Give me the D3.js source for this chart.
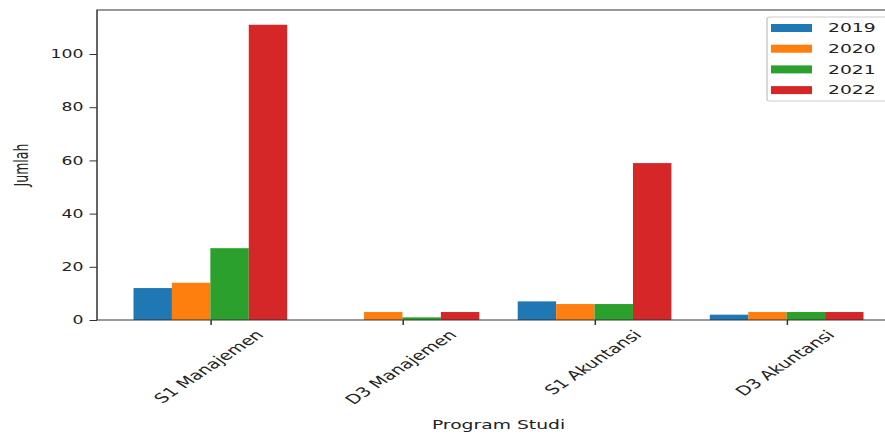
<!DOCTYPE html>
<html>
<head>
<meta charset="utf-8">
<script src="https://cdn.jsdelivr.net/npm/d3@7"></script>
<style>
  body { margin: 0; background: #fff; }
  svg { display: block; }
  text { font-family: "DejaVu Sans", sans-serif; fill: #222; }
</style>
</head>
<body>
<div id="chart"></div>
<script>
// Data
const programs = ["S1 Manajemen", "D3 Manajemen", "S1 Akuntansi", "D3 Akuntansi"];
const years = ["2019", "2020", "2021", "2022"];
const v2019 = [12, 0, 7, 2];
const v2020 = [14, 3, 6, 3];
const v2021 = [27, 1, 6, 3];
const v2022 = [111, 3, 59, 3];
const yTicks = [0, 20, 40, 60, 80, 100];
const colors = ["#1f77b4", "#ff7f0e", "#2ca02c", "#d62728"];

const series = [v2019, v2020, v2021, v2022];

function draw() {
    // the reference picture is stretched sideways, so draw in a narrower
    // virtual space and let the viewBox stretch it
    const sx = 1.5;
    const W = 885, H = 434;
    const vw = W / sx;
    const margin = { top: 10, left: 97 / sx, right: 600, bottom: 320 };

    const svg = d3.select("#chart")
        .html("")
        .append("svg")
        .attr("width", W)
        .attr("height", H)
        .attr("viewBox", `0 0 ${vw} ${H}`)
        .attr("preserveAspectRatio", "none");

    // matplotlib-style limits: bars at i-0.4..i+0.4, 5% margins
    const x = d3.scaleLinear()
        .domain([-0.59, programs.length - 1 + 0.59])
        .range([margin.left, margin.right]);

    const yMax = d3.max(series.flat()) * 1.05;
    const y = d3.scaleLinear()
        .domain([0, yMax])
        .range([margin.bottom, margin.top]);

    const bw = 0.2;

    series.forEach((vals, k) => {
        svg.append("g")
            .selectAll("rect")
            .data(vals)
            .join("rect")
            .attr("x", (d, i) => x(i - 0.4 + k * bw))
            .attr("width", x(bw) - x(0))
            .attr("y", d => y(d))
            .attr("height", d => y(0) - y(d))
            .attr("fill", colors[k]);
    });

    // frame
    svg.append("rect")
        .attr("x", margin.left)
        .attr("y", margin.top)
        .attr("width", margin.right - margin.left)
        .attr("height", margin.bottom - margin.top)
        .attr("fill", "none")
        .attr("stroke", "#333")
        .attr("stroke-width", 1);

    // y axis
    const yAxis = svg.append("g")
        .attr("transform", `translate(${margin.left},0)`)
        .call(d3.axisLeft(y).tickValues(yTicks).tickSize(5).tickPadding(4));
    yAxis.select(".domain").remove();
    yAxis.selectAll("line").attr("stroke", "#333");
    yAxis.selectAll("text").attr("font-size", 11.5).style("font-family", "DejaVu Sans").attr("fill", "#222");

    // x axis ticks
    const xAxis = svg.append("g")
        .attr("transform", `translate(0,${margin.bottom})`)
        .call(d3.axisBottom(x).tickValues(d3.range(programs.length)).tickSize(5).tickFormat(""));
    xAxis.select(".domain").remove();
    xAxis.selectAll("line").attr("stroke", "#333");

    // rotated x tick labels, centred under each tick
    programs.forEach((p, i) => {
        const t = svg.append("text")
            .attr("font-size", 13)
            .attr("text-anchor", "middle")
            .attr("dominant-baseline", "central")
            .text(p);
        const L = t.node().getComputedTextLength();
        const half = (L + 13) * Math.SQRT1_2 / 2;
        const cx = x(i) - 1, cy = margin.bottom + 8 + half;
        t.attr("x", cx).attr("y", cy)
            .attr("transform", `rotate(-45,${cx},${cy})`);
    });

    // axis titles
    svg.append("text")
        .attr("x", x((programs.length - 1) / 2))
        .attr("y", 429)
        .attr("text-anchor", "middle")
        .attr("font-size", 12.5)
        .text("Program Studi");

    svg.append("text")
        .attr("transform", `translate(${22 / sx},${(margin.top + margin.bottom) / 2}) rotate(-90)`)
        .attr("text-anchor", "middle")
        .attr("dominant-baseline", "central")
        .attr("font-size", 12.5)
        .text("Jumlah");

    // legend
    const lx = 767 / sx, ly = 17;
    const legend = svg.append("g");
    legend.append("rect")
        .attr("x", lx)
        .attr("y", ly)
        .attr("width", 128 / sx)
        .attr("height", 84)
        .attr("rx", 2)
        .attr("fill", "#fff")
        .attr("fill-opacity", 0.8)
        .attr("stroke", "#ccc");

    years.forEach((yr, k) => {
        const cy = 28 + k * 20.7;
        legend.append("rect")
            .attr("x", 771 / sx)
            .attr("y", cy - 4)
            .attr("width", 41 / sx)
            .attr("height", 8)
            .attr("fill", colors[k]);
        legend.append("text")
            .attr("x", 828 / sx)
            .attr("y", cy)
            .attr("dominant-baseline", "central")
            .attr("font-size", 12.5)
            .text(yr);
    });
}

window.onload = draw;
</script>
</body>
</html>
